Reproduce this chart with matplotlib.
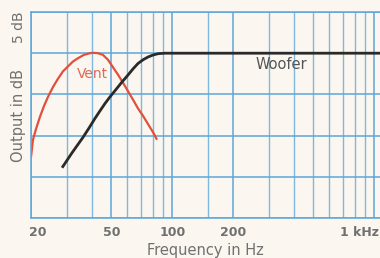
import numpy as np
import matplotlib
matplotlib.use('Agg')
import matplotlib.pyplot as plt
import matplotlib.transforms as mtransforms
from matplotlib.ticker import FixedLocator, FixedFormatter, NullFormatter

# Daten
vent_f = [20.0, 20.46, 21.17, 22.16, 23.2, 24.28, 25.7, 27.2, 28.8, 30.5, 32.3, 34.2, 36.6, 39.2, 40.5,
          42.9, 45.4, 48.1, 50.9, 53.9, 57.1, 60.4, 64.0, 67.7, 71.7, 75.9, 80.4, 84.1]
vent_db = [7.4, 9.5, 10.8, 12.3, 13.6, 14.7, 15.9, 16.9, 17.8, 18.4, 19.0, 19.4, 19.8, 20.0, 20.05,
           20.0, 19.8, 19.2, 18.3, 17.4, 16.4, 15.4, 14.35, 13.3, 12.4, 11.4, 10.4, 9.5]

woofer_f = [28.5, 31.9, 36.2, 38.7, 41.5, 43.9, 46.5, 49.2, 52.7, 56.4, 59.7, 64.0, 67.7, 71.7, 75.9,
            80.4, 85.1, 92.1, 101.0, 1200.0]
woofer_db = [6.1, 7.9, 9.8, 10.9, 12.1, 13.0, 13.9, 14.7, 15.6, 16.5, 17.2, 18.1, 18.75, 19.2, 19.54,
             19.78, 19.94, 20.0, 20.0, 20.0]

major_ticks = [20, 50, 100, 200, 1000]
major_labels = ['20', '50', '100', '200', '1 kHz']
minor_ticks = [30, 40, 60, 70, 80, 90, 150, 300, 400, 500, 600, 700, 800, 900]
db_lines = [0, 5, 10, 15, 20, 25]

bg = '#fbf7f0'
grid_col = '#7db8e0'
text_col = '#707070'

fig = plt.figure(figsize=(3.8, 2.58), dpi=100, facecolor=bg)
ax = fig.add_axes([31/380, 1 - 218/258, 349/380, 206/258])
ax.set_facecolor(bg)

ax.set_xscale('log')
ax.set_xlim(20, 1068)
ax.set_ylim(0, 25)

ax.xaxis.set_major_locator(FixedLocator(major_ticks))
ax.xaxis.set_major_formatter(FixedFormatter(major_labels))
ax.xaxis.set_minor_locator(FixedLocator(minor_ticks))
ax.xaxis.set_minor_formatter(NullFormatter())
ax.yaxis.set_major_locator(FixedLocator(db_lines))
ax.set_yticklabels([])

ax.grid(True, which='major', color='#5da6d9', linewidth=1.1)
ax.grid(True, which='minor', axis='x', color=grid_col, linewidth=1.0)
ax.tick_params(which='both', length=0)
ax.tick_params(axis='x', labelsize=9, labelcolor=text_col, pad=6)
for lbl in ax.get_xticklabels():
    lbl.set_fontweight('bold')

# "20" etwas nach rechts, "1 kHz" rechtsbündig am Rand
labels = ax.get_xticklabels()
labels[0].set_transform(labels[0].get_transform() + mtransforms.ScaledTranslation(7/100, 0, fig.dpi_scale_trans))
labels[-1].set_horizontalalignment('right')
labels[-1].set_transform(labels[-1].get_transform() + mtransforms.ScaledTranslation(5/100, 0, fig.dpi_scale_trans))

for s in ['left', 'bottom', 'top']:
    ax.spines[s].set_color('#5da6d9')
    ax.spines[s].set_linewidth(1.1)
ax.spines['right'].set_visible(False)

ax.plot(vent_f, vent_db, color='#e0503c', linewidth=1.6, solid_capstyle='butt')
ax.plot(woofer_f, woofer_db, color='#2a2a2a', linewidth=2.0, solid_capstyle='butt')

ax.text(40.5, 17.5, 'Vent', color='#e06a55', fontsize=10, ha='center', va='center')
ax.text(348, 18.6, 'Woofer', color='#555555', fontsize=10.5, ha='center', va='center')

ax.set_xlabel('Frequency in Hz', fontsize=10.5, color=text_col, labelpad=3)
ax.set_ylabel('Output in dB', fontsize=10.5, color=text_col, labelpad=0)
ax.text(-0.034, 0.927, '5 dB', transform=ax.transAxes, rotation=90,
        fontsize=10, color=text_col, ha='center', va='center')

fig.savefig('out.png', dpi=100, facecolor=bg)
